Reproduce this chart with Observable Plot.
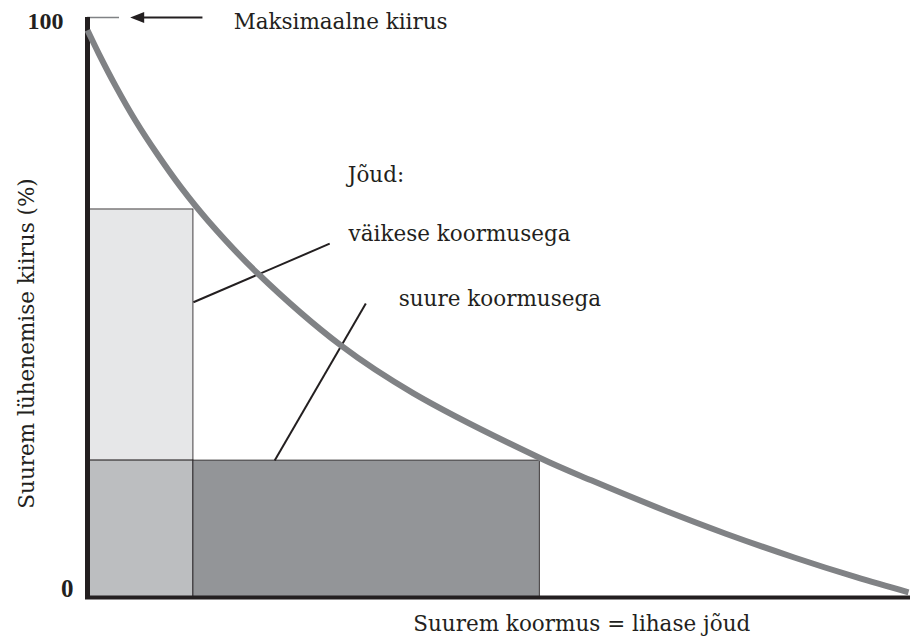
<!DOCTYPE html>
<html><head><meta charset="utf-8">
<script src="https://cdn.jsdelivr.net/npm/d3@7"></script>
<script src="https://cdn.jsdelivr.net/npm/@observablehq/plot@0.6"></script>
<style>html,body{margin:0;padding:0;background:#fff} svg{display:block}</style>
</head><body><div id="chart"></div>
<script>
// Force–velocity curve (load in % of max force, shortening speed in % of max)
const curveLoad  = [0, 1.40, 3.50, 5.85, 8.47, 11.39, 14.65, 20.71, 30.82, 39.71, 55.05, 61.36, 70.32, 77.75, 86.08, 93.63, 100];
const curveSpeed = [97.8, 93.7, 88.0, 82.2, 76.5, 70.7, 65.0, 55.9, 43.5, 35.2, 24.1, 20.2, 15.0, 11.0, 6.9, 3.5, 0.9];

// Power rectangles
const rectKind   = ["väike", "ühine", "suur"];
const rectLoad1  = [0, 0, 12.9];
const rectLoad2  = [12.9, 12.9, 55.1];
const rectSpeed1 = [23.6, 0, 0];
const rectSpeed2 = [66.9, 23.6, 23.6];

// Leader lines
const leaderLoad1  = [12.9, 22.8];
const leaderSpeed1 = [50.9, 23.6];
const leaderLoad2  = [29.5, 33.9];
const leaderSpeed2 = [61.0, 50.7];

// Annotation labels
const labelText  = ["Maksimaalne kiirus", "Jõud:", "väikese koormusega", "suure koormusega"];
const labelLoad  = [17.8, 31.7, 31.8, 37.9];
const labelSpeed = [98.1, 71.7, 61.4, 50.3];

// Arrow to the maximal speed
const arrowTail = [14.0];
const arrowTip  = [5.2];
const tickEnd   = [3.9];

const yTickLabels = ["0", "100"];
const yTickValues = [0, 100];
const xTitle = "Suurem koormus = lihase jõud";
const yTitle = "Suurem lühenemise kiirus (%)";
const yTitleAt = 43.8;
const xTitleAt = 60.2;

const curve = curveLoad.map((x, i) => ({x, y: curveSpeed[i]}));
const rects = rectKind.map((k, i) => ({k, x1: rectLoad1[i], x2: rectLoad2[i], y1: rectSpeed1[i], y2: rectSpeed2[i]}));
const leaders = leaderLoad1.map((x1, i) => ({x1, y1: leaderSpeed1[i], x2: leaderLoad2[i], y2: leaderSpeed2[i]}));
const labels = labelText.map((t, i) => ({t, x: labelLoad[i], y: labelSpeed[i]}));

const ink = "#231f20";
const font = "DejaVu Serif";
const numFont = "Liberation Serif";

const arrowHead = {
  draw(context) {
    context.moveTo(0, 0);
    context.lineTo(14, -5.5);
    context.lineTo(14, 5.5);
    context.closePath();
  }
};

const chart = Plot.plot({
  width: 911,
  height: 639,
  marginLeft: 87,
  marginRight: 3,
  marginTop: 17,
  marginBottom: 42,
  x: {domain: [0, 100], axis: null},
  y: {domain: [0, 100], axis: null},
  color: {domain: rectKind, range: ["#e6e7e8", "#bcbec0", "#939598"]},
  style: {background: "white", fontFamily: font, color: ink},
  marks: [
    Plot.rect(rects, {x1: "x1", x2: "x2", y1: "y1", y2: "y2", fill: "k", stroke: ink, strokeWidth: 1, strokeOpacity: 0.85}),
    Plot.link(leaders, {x1: "x1", y1: "y1", x2: "x2", y2: "y2", stroke: ink, strokeWidth: 2}),
    Plot.ruleY([100], {x1: 0, x2: tickEnd[0], stroke: "#808285", strokeWidth: 1.5}),
    Plot.ruleX([0], {y1: 0, y2: 100, stroke: ink, strokeWidth: 5}),
    Plot.ruleY([0], {x1: 0, x2: 100, stroke: ink, strokeWidth: 4, strokeLinecap: "square"}),
    Plot.link(arrowTail, {x1: d => d, x2: (d, i) => arrowTip[i] + 1.2, y1: 100, y2: 100, stroke: ink, strokeWidth: 2}),
    Plot.dot(arrowTip, {x: d => d, y: 100, symbol: arrowHead, fill: ink, stroke: null}),
    Plot.line(curve, {x: "x", y: "y", curve: "catmull-rom", stroke: "#808285", strokeWidth: 6, strokeLinecap: "butt"}),
    Plot.text(labels, {x: "x", y: "y", text: "t", textAnchor: "start", lineAnchor: "bottom", fontSize: 21.5, fill: ink}),
    Plot.text([yTickValues[1]], {x: 0, y: d => d, text: [yTickLabels[1]], textAnchor: "end", lineAnchor: "bottom", dx: -24, dy: 11, fontSize: 24, fontWeight: "bold", fontFamily: numFont, fill: ink}),
    Plot.text([yTickValues[0]], {x: 0, y: d => d, text: [yTickLabels[0]], textAnchor: "end", lineAnchor: "bottom", dx: -14, dy: -1, fontSize: 25, fontWeight: "bold", fontFamily: numFont, fill: ink}),
    Plot.text([xTitle], {x: xTitleAt, y: 0, text: d => d, textAnchor: "middle", lineAnchor: "bottom", dy: 33, fontSize: 21.5, fill: ink}),
    Plot.text([yTitle], {x: 0, y: yTitleAt, text: d => d, rotate: -90, textAnchor: "middle", lineAnchor: "bottom", dx: -54, fontSize: 21.5, fill: ink})
  ]
});
document.getElementById("chart").appendChild(chart);
</script>
</body></html>
